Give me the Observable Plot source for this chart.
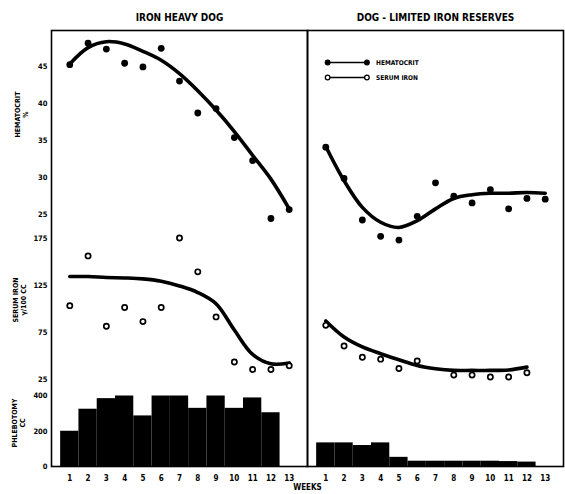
<!DOCTYPE html>
<html><head><meta charset="utf-8">
<script src="https://cdn.jsdelivr.net/npm/d3@7"></script>
<script src="https://cdn.jsdelivr.net/npm/@observablehq/plot@0.6"></script>
<style>body{margin:0;background:#fff}</style>
</head><body><div id="chart"></div>
<script>
// ---- data ----
const panels = ["IRON HEAVY DOG", "DOG - LIMITED IRON RESERVES"];
const weeks = [1,2,3,4,5,6,7,8,9,10,11,12,13];
const hemHeavy        = [45.2,48.1,47.3,45.4,44.9,47.4,43.0,38.7,39.3,35.4,32.3,24.5,25.7];
const hemHeavyCurve   = [45.3,47.5,48.3,48.0,47.0,45.8,44.0,41.7,39.1,36.2,33.0,29.8,25.8];
const ironHeavy       = [104,157,82,102,87,102,176,140,92,44,36,36,40];
const ironHeavyCurve  = [135,135,134,133.5,132.5,130,125,118,106,78,52,42,43];
const phlebHeavy      = [200,325,385,400,287,400,400,330,400,330,389,305,null];
const hemLimited      = [34.1,29.9,24.3,22.1,21.6,24.8,29.3,27.5,26.6,28.4,25.8,27.2,27.1];
const hemLimitedCurve = [34.2,29.6,26.0,24.0,23.3,24.2,25.8,27.2,27.7,27.9,27.9,28.0,27.9];
const ironLimited     = [83,61,49,47,37,45,null,30,30,28,28,32.5,null];
const ironLimitedCurve= [87.7,70.6,60,52.8,46.4,40.3,36.8,35,35,35,35.5,38.5,null];
const phlebLimited    = [134,134,119,134,52,30,30,30,30,30,28,25,null];
const hemTicks = [25,30,35,40,45];
const ironTicks = [25,75,125,175];
const phlebTicks = [0,200,400];
const legendItems = ["HEMATOCRIT","SERUM IRON"];

// ---- three stacked value bands on one shared vertical scale ----
const hemY = d3.scaleLinear([25,45],[251.7,400.3]);
const ironY = d3.scaleLinear([25,175],[86.7,227.5]);
const phY = d3.scaleLinear([0,400],[0,70.5]);

const rows = [];
weeks.forEach((w,i) => {
  rows.push({panel: panels[0], week: w, hem: hemHeavy[i], hemC: hemHeavyCurve[i], iron: ironHeavy[i], ironC: ironHeavyCurve[i], ph: phlebHeavy[i]});
  rows.push({panel: panels[1], week: w, hem: hemLimited[i], hemC: hemLimitedCurve[i], iron: ironLimited[i], ironC: ironLimitedCurve[i], ph: phlebLimited[i]});
});
const ok = k => rows.filter(d => d[k] != null);

const FONT = "DejaVu Sans Condensed, DejaVu Sans, sans-serif";
const axisFor = (vals, sc) => {
  const pos = vals.map(v => sc(v));
  return Plot.axisY(pos, {tickSize: 0, tickPadding: 4, label: null, fontSize: 7.5, fontWeight: "bold",
    tickFormat: d => String(vals[pos.findIndex(p => Math.abs(p - d) < 1e-6)])});
};

const legend = legendItems.map((t,i) => ({panel: panels[1], label: t, filled: i === 0, y: 404 - i*15, x1: 1.1, x2: 3.25, xt: 3.75}));
const titleStyle = {fx: "panel", frameAnchor: "left", y: "y", text: "t", rotate: -90, textAnchor: "middle", fontSize: 7, fontWeight: "bold", lineHeight: 1.2};

const chart = Plot.plot({
  width: 565, height: 494,
  marginLeft: 50, marginRight: 1.5, marginTop: 30, marginBottom: 28,
  style: {fontFamily: FONT, fontWeight: "bold", background: "white", color: "black"},
  fx: {domain: panels, padding: 0},
  x: {domain: [0,14]},
  y: {domain: [0,436]},
  marks: [
    Plot.axisFx({anchor: "top", tickSize: 0, tickPadding: 10, label: null, fontSize: 10, fontWeight: "bold"}),
    Plot.axisX({ticks: weeks, tickSize: 0, tickPadding: 9, label: null, fontSize: 8, fontWeight: "bold", tickFormat: d => String(d)}),
    axisFor(hemTicks, hemY),
    axisFor(ironTicks, ironY),
    axisFor(phlebTicks, phY),
    Plot.rect(ok("ph"), {fx: "panel", x1: d => d.week - 0.5, x2: d => d.week + 0.5, y1: phY(0), y2: d => phY(d.ph), fill: "black"}),
    Plot.frame({stroke: "black", strokeWidth: 1.6}),
    Plot.line(ok("hemC"), {fx: "panel", x: "week", y: d => hemY(d.hemC), stroke: "black", strokeWidth: 3.6, curve: "catmull-rom"}),
    Plot.line(ok("ironC"), {fx: "panel", x: "week", y: d => ironY(d.ironC), stroke: "black", strokeWidth: 3.6, curve: "catmull-rom"}),
    Plot.dot(ok("hem"), {fx: "panel", x: "week", y: d => hemY(d.hem), r: 3.4, fill: "black"}),
    Plot.dot(ok("iron"), {fx: "panel", x: "week", y: d => ironY(d.iron), r: 2.6, fill: "white", stroke: "black", strokeWidth: 1.7}),
    // legend
    Plot.link(legend, {fx: "panel", x1: "x1", x2: "x2", y1: "y", y2: "y", stroke: "black", strokeWidth: 1.6}),
    Plot.dot(legend, {fx: "panel", x: "x1", y: "y", r: 2.3, fill: d => d.filled ? "black" : "white", stroke: "black", strokeWidth: 1.3}),
    Plot.dot(legend, {fx: "panel", x: "x2", y: "y", r: 2.3, fill: d => d.filled ? "black" : "white", stroke: "black", strokeWidth: 1.3}),
    Plot.text(legend, {fx: "panel", x: "xt", y: "y", text: "label", textAnchor: "start", fontSize: 6.5, fontWeight: "bold"}),
    // axis titles
    Plot.text([{panel: panels[0], t: "HEMATOCRIT\n%", y: hemY(38.5)}], {...titleStyle, dx: -30}),
    Plot.text([{panel: panels[0], t: "SERUM IRON\nγ/100 CC", y: ironY(110)}], {...titleStyle, dx: -32}),
    Plot.text([{panel: panels[0], t: "PHLEBOTOMY\nCC", y: phY(247)}], {...titleStyle, dx: -33}),
    Plot.text([{panel: panels[1], t: "WEEKS"}], {fx: "panel", frameAnchor: "bottom-left", textAnchor: "middle", text: "t", dy: 23, fontSize: 8, fontWeight: "bold"})
  ]
});
document.getElementById("chart").appendChild(chart);
</script>
</body></html>
